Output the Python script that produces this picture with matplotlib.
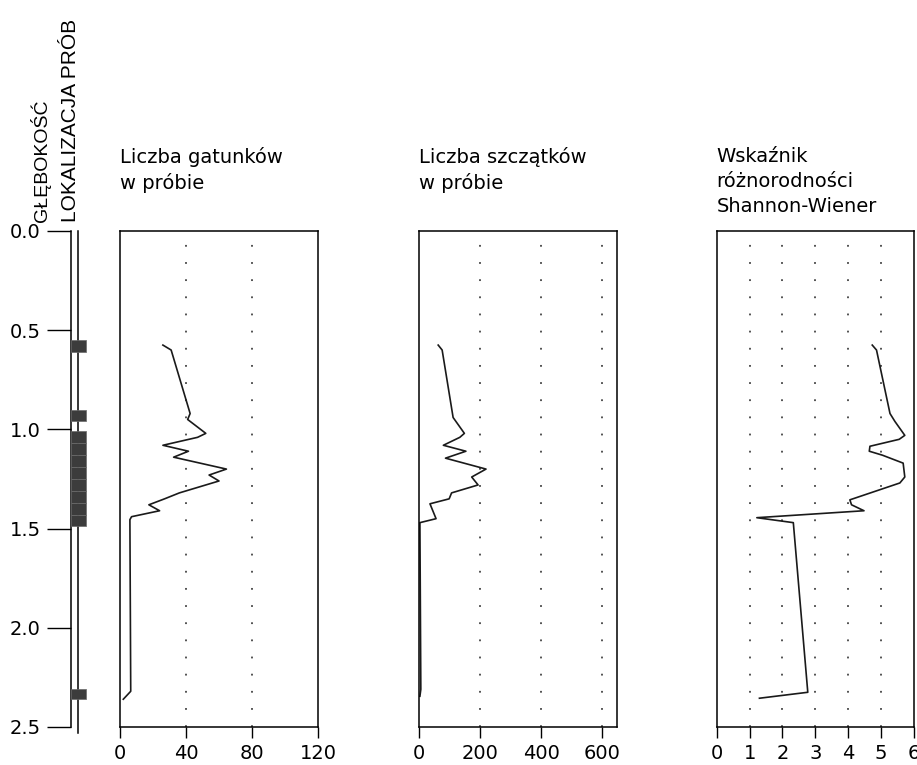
import matplotlib
matplotlib.use("Agg")
import matplotlib.pyplot as plt

# ---------------- data ----------------
depth_ticks = [0.0, 0.5, 1.0, 1.5, 2.0, 2.5]
depth_labels = ["0.0", "0.5", "1.0", "1.5", "2.0", "2.5"]

# sample locations (top, bottom) in m
sample_top = [0.55, 0.90, 1.01, 1.07, 1.13, 1.19, 1.25, 1.31, 1.37, 1.43, 2.31]
sample_bot = [0.61, 0.96, 1.07, 1.13, 1.19, 1.25, 1.31, 1.37, 1.43, 1.485, 2.36]

depth_sp = [0.575, 0.60, 0.92, 0.95, 1.02, 1.04, 1.08, 1.11, 1.14, 1.20, 1.23,
            1.26, 1.32, 1.35, 1.38, 1.41, 1.44, 1.455, 2.32, 2.36]
species = [26, 31, 42.5, 41, 52, 47, 26, 41.5, 32.5, 64.5, 54,
           60, 36, 27, 17.5, 24, 7, 6, 6.5, 2]

depth_rem = [0.575, 0.60, 0.94, 1.02, 1.04, 1.08, 1.11, 1.145, 1.20, 1.24,
             1.28, 1.32, 1.35, 1.375, 1.45, 1.47, 2.31, 2.345]
remains = [62, 75, 111, 148, 133, 79, 153, 86, 219, 172,
           193, 106, 98, 35, 55, 2, 5, 2]

depth_sh = [0.575, 0.60, 0.92, 0.96, 1.03, 1.05, 1.085, 1.11, 1.13, 1.17,
            1.24, 1.27, 1.355, 1.38, 1.41, 1.445, 1.47, 2.325, 2.355]
shannon = [4.73, 4.86, 5.27, 5.42, 5.72, 5.55, 4.66, 4.64, 5.04, 5.67,
           5.72, 5.57, 4.05, 4.10, 4.48, 1.22, 2.33, 2.77, 1.30]

titles = ["Liczba gatunków\nw próbie",
          "Liczba szczątków\nw próbie",
          "Wskaźnik\nróżnorodności\nShannon-Wiener"]
x_limits = [(0, 120), (0, 650), (0, 6)]
x_ticks = [[0, 40, 80, 120], [0, 200, 400, 600], [0, 1, 2, 3, 4, 5, 6]]
grid_x = [[40, 80], [200, 400, 600], [1, 2, 3, 4, 5]]

# ---------------- layout ----------------
W, H = 917, 765
fig = plt.figure(figsize=(W / 100, H / 100), dpi=100)
plt.rcParams['font.family'] = ['DejaVu Sans']

top_px, bot_px = 231, 727
def box(x0, x1):
    return [x0 / W, 1 - bot_px / H, (x1 - x0) / W, (bot_px - top_px) / H]

# depth column
ax0 = fig.add_axes(box(70.5, 86))
ax0.set_ylim(2.5, 0)
ax0.set_xlim(0, 1)
for s in ["top", "right", "bottom"]:
    ax0.spines[s].set_visible(False)
ax0.spines["left"].set_linewidth(1.1)
ax0.set_xticks([])
ax0.set_yticks(depth_ticks)
ax0.set_yticklabels(depth_labels, fontsize=14)
ax0.tick_params(axis="y", length=17.5, width=1.0, pad=4)
ax0.plot([0.5, 0.5], [0.0, 2.53], color="black", lw=1.1, clip_on=False)
for t, b in zip(sample_top, sample_bot):
    ax0.fill_between([0, 1], t, b, facecolor="#3c3c3c", edgecolor="#6a6a6a",
                     lw=0.5, zorder=3)
ax0.patch.set_visible(False)

fig.text(40 / W, 1 - 222 / H, "GŁĘBOKOŚĆ", rotation=90, ha="center", va="bottom",
         fontsize=14, family=["Liberation Sans Narrow", "Liberation Sans"])
fig.text(71 / W, 1 - 222 / H, "LOKALIZACJA PRÓB", rotation=90, ha="center",
         va="bottom", fontsize=15,
         family=["Liberation Sans Narrow", "Liberation Sans"])

panel_px = [(120, 318), (419.3, 617.3), (716.7, 914)]
series = [(depth_sp, species), (depth_rem, remains), (depth_sh, shannon)]

for i, ((x0, x1), (d, v)) in enumerate(zip(panel_px, series)):
    ax = fig.add_axes(box(x0, x1))
    ax.set_ylim(2.5, 0)
    ax.set_xlim(*x_limits[i])
    for s in ax.spines.values():
        s.set_linewidth(1.1)
    ax.set_yticks([])
    ax.set_xticks(x_ticks[i])
    ax.tick_params(axis="x", length=8, width=1.0, pad=4, labelsize=14)
    for gx in grid_x[i]:
        ax.axvline(gx, color="#444444", lw=1.3, linestyle=(0, (1.0, 8.5)))
    ax.plot(v, d, color="#1a1a1a", lw=1.2)
    fig.text(x0 / W, 1 - 147 / H, titles[i], ha="left", va="top", fontsize=14,
             linespacing=1.4)

fig.savefig("out.png", dpi=100)
